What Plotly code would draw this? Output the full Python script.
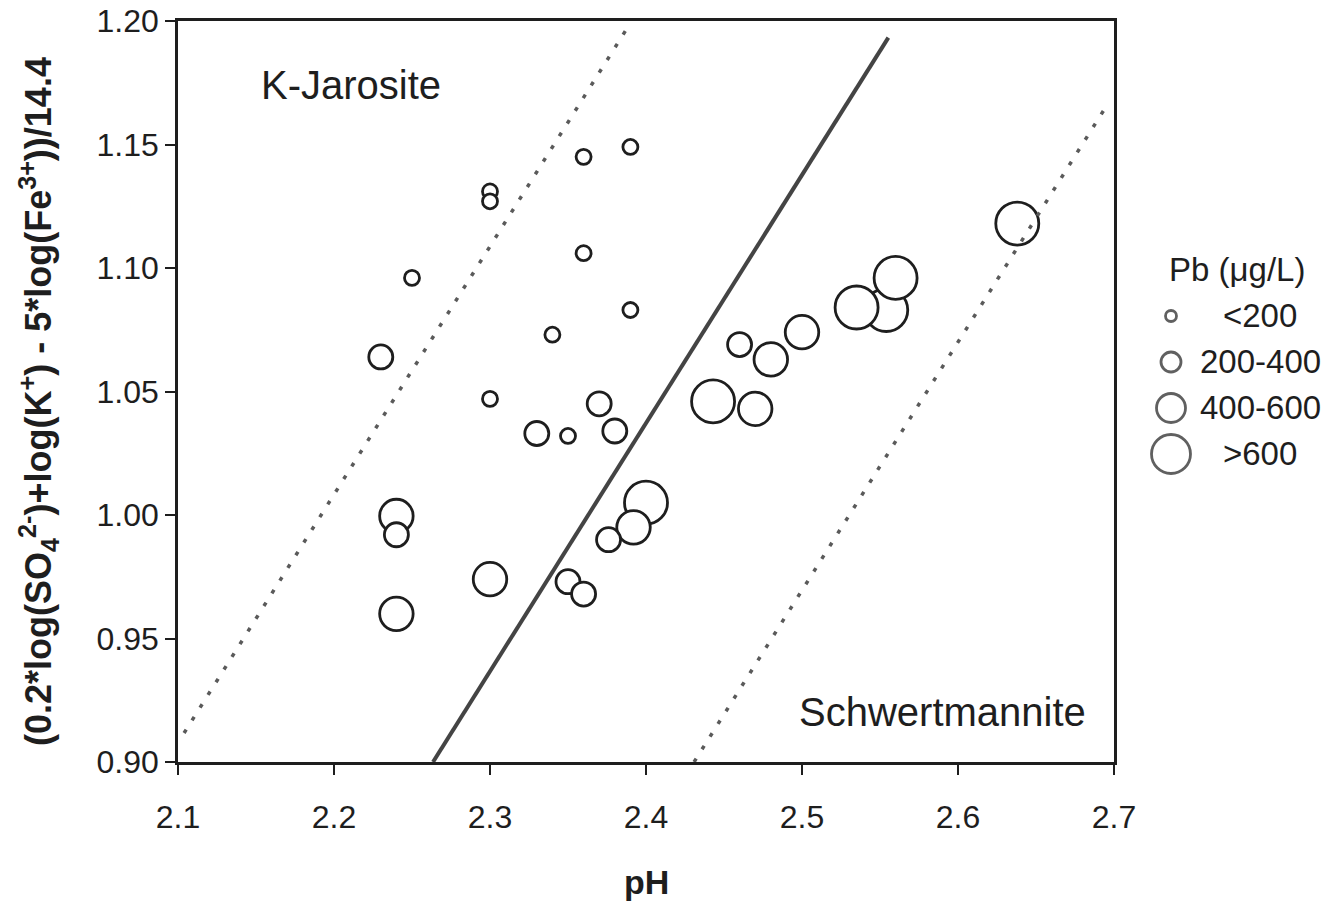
import plotly.graph_objects as go

# ---------------- data ----------------
size_classes = ["<200", "200-400", "400-600", ">600"]

# Pb < 200 ug/L
ph_lt200 = [2.25, 2.30, 2.30, 2.30, 2.34, 2.35, 2.36, 2.36, 2.39, 2.39]
val_lt200 = [1.096, 1.131, 1.127, 1.047, 1.073, 1.032, 1.145, 1.106, 1.149, 1.083]

# Pb 200-400 ug/L
ph_200_400 = [2.23, 2.24, 2.33, 2.37, 2.38, 2.35, 2.36, 2.376, 2.46]
val_200_400 = [1.064, 0.992, 1.033, 1.045, 1.034, 0.973, 0.968, 0.990, 1.069]

# Pb 400-600 ug/L
ph_400_600 = [2.24, 2.24, 2.30, 2.392, 2.50, 2.48, 2.47]
val_400_600 = [0.9996, 0.960, 0.974, 0.995, 1.074, 1.063, 1.043]

# Pb > 600 ug/L
ph_gt600 = [2.40, 2.443, 2.554, 2.535, 2.56, 2.638]
val_gt600 = [1.005, 1.046, 1.083, 1.084, 1.096, 1.118]

# boundary lines (pH, value) endpoints
eq_line_ph = [2.268, 2.568]
eq_line_val = [0.900, 1.200]
upper_line_ph = [2.104, 2.397]
upper_line_val = [0.912, 1.205]
lower_line_ph = [2.440, 2.710]
lower_line_val = [0.900, 1.170]

x_ticks = [2.1, 2.2, 2.3, 2.4, 2.5, 2.6, 2.7]
y_ticks = [0.90, 0.95, 1.00, 1.05, 1.10, 1.15, 1.20]

# ---------------- layout constants ----------------
SCREEN_W, SCREEN_H = 1340, 906
OFF = 0                       # page margin removed by post_script below
W, H = SCREEN_W - OFF, SCREEN_H - OFF


def fx(px):
    """screen pixel x -> paper fraction"""
    return (px - OFF) / W


def fy(py):
    """screen pixel y -> paper fraction"""
    return (SCREEN_H - py) / H


PL, PR, PT, PB = 178, 1114, 21, 762   # plot area, screen pixels
X_RANGE = [2.1, 2.7]
Y_RANGE = [0.90, 1.20]
FONT = "Arial, 'Liberation Sans', sans-serif"
INK = "#1e1e1e"

marker_sizes = [15, 24, 33.5, 43]
legend_sizes = [11, 20, 29, 39]

px_x = (PR - PL) / (X_RANGE[1] - X_RANGE[0])
px_y = (PB - PT) / (Y_RANGE[1] - Y_RANGE[0])

fig = go.Figure()

# boundary lines drawn on an overlay axis pair with identical scale but larger area
OVR_R, OVR_T = 1140, 4
for xs, ys, dash, width, color in [
    (upper_line_ph, upper_line_val, "4px,11px", 3.5, "#5a5a5a"),
    (lower_line_ph, lower_line_val, "4px,11px", 3.5, "#5a5a5a"),
    (eq_line_ph, eq_line_val, "solid", 4, "#444444"),
]:
    fig.add_trace(go.Scatter(x=xs, y=ys, mode="lines", xaxis="x3", yaxis="y3",
                             line=dict(color=color, width=width, dash=dash),
                             showlegend=False, hoverinfo="skip"))

# data points: biggest first so smaller circles sit on top
groups = [
    (ph_gt600, val_gt600, 3),
    (ph_400_600, val_400_600, 2),
    (ph_200_400, val_200_400, 1),
    (ph_lt200, val_lt200, 0),
]
for xs, ys, k in groups:
    fig.add_trace(go.Scatter(
        x=xs, y=ys, mode="markers", name=size_classes[k], showlegend=False,
        marker=dict(symbol="circle", size=marker_sizes[k], color="white",
                    line=dict(color=INK, width=2.8)),
        cliponaxis=False))

# custom legend on its own hidden axes (x units = screen pixels from LEG_L)
LEG_L, LEG_R, LEG_T, LEG_B = 1140, SCREEN_W, 247, 477
fig.add_trace(go.Scatter(
    x=[31] * len(size_classes), y=list(range(len(size_classes))),
    mode="markers", xaxis="x2", yaxis="y2", showlegend=False, hoverinfo="skip",
    marker=dict(symbol="circle", size=legend_sizes, color="white",
                line=dict(color=INK, width=2.8)),
    cliponaxis=False))

annotations = []
for i, lab in enumerate(size_classes):
    annotations.append(dict(x=120, y=i, xref="x2", yref="y2", text=lab,
                            showarrow=False, xanchor="center", yanchor="middle",
                            font=dict(family=FONT, size=33, color=INK)))
annotations.append(dict(x=97, y=-1, xref="x2", yref="y2", text="Pb (\u03bcg/L)",
                        showarrow=False, xanchor="center", yanchor="middle",
                        font=dict(family=FONT, size=33, color=INK)))

# region labels
annotations.append(dict(x=2.211, y=1.174, xref="x", yref="y", text="K-Jarosite",
                        showarrow=False, xanchor="center", yanchor="middle",
                        font=dict(family=FONT, size=40, color=INK)))
annotations.append(dict(x=2.590, y=0.9202, xref="x", yref="y", text="Schwertmannite",
                        showarrow=False, xanchor="center", yanchor="middle",
                        font=dict(family=FONT, size=40, color=INK)))

# axis titles
annotations.append(dict(x=fx(646), y=fy(882), xref="paper", yref="paper",
                        text="<b>pH</b>", showarrow=False, xanchor="center", yanchor="middle",
                        font=dict(family=FONT, size=34, color=INK)))
annotations.append(dict(x=fx(38), y=fy(402), xref="paper", yref="paper",
                        text="<b>(0.2*log(SO<sub>4</sub><sup>2-</sup>)+log(K<sup>+</sup>) - 5*log(Fe<sup>3+</sup>))/14.4</b>",
                        textangle=-90, showarrow=False, xanchor="center", yanchor="middle",
                        font=dict(family=FONT, size=36, color=INK)))

axis_common = dict(showgrid=False, zeroline=False, showline=True, linecolor=INK,
                   linewidth=2.5, mirror=True, ticks="outside", ticklen=10,
                   tickwidth=2, tickcolor=INK, automargin=False,
                   ticklabeloverflow="allow",
                   tickfont=dict(family=FONT, size=32, color=INK))

fig.update_layout(
    width=W, height=H, margin=dict(l=0, r=0, t=0, b=0, autoexpand=False),
    paper_bgcolor="white", plot_bgcolor="white", showlegend=False,
    xaxis=dict(domain=[fx(PL), fx(PR)], range=X_RANGE, tickvals=x_ticks,
               tickformat=".1f", anchor="y", ticklabelstandoff=15, **axis_common),
    yaxis=dict(domain=[fy(PB), fy(PT)], range=Y_RANGE, tickvals=y_ticks,
               tickformat=".2f", anchor="x", ticklabelstandoff=0, **axis_common),
    xaxis2=dict(domain=[fx(LEG_L), 1.0], range=[0, LEG_R - LEG_L],
                visible=False, anchor="y2", fixedrange=True, automargin=False),
    yaxis2=dict(domain=[fy(LEG_B), fy(LEG_T)], range=[3.5, -1.5],
                visible=False, anchor="x2", fixedrange=True, automargin=False),
    xaxis3=dict(domain=[fx(PL), fx(OVR_R)],
                range=[X_RANGE[0], X_RANGE[0] + (OVR_R - PL) / px_x],
                visible=False, anchor="y3", overlaying="x", fixedrange=True, automargin=False),
    yaxis3=dict(domain=[fy(PB), fy(OVR_T)],
                range=[Y_RANGE[0], Y_RANGE[0] + (PB - OVR_T) / px_y],
                visible=False, anchor="x3", overlaying="y", fixedrange=True, automargin=False),
    annotations=annotations,
)

fig.write_html("out.html",
               config={"displayModeBar": False},
               post_script="document.body.style.margin='0px';"
                           "document.body.style.overflow='hidden';")
